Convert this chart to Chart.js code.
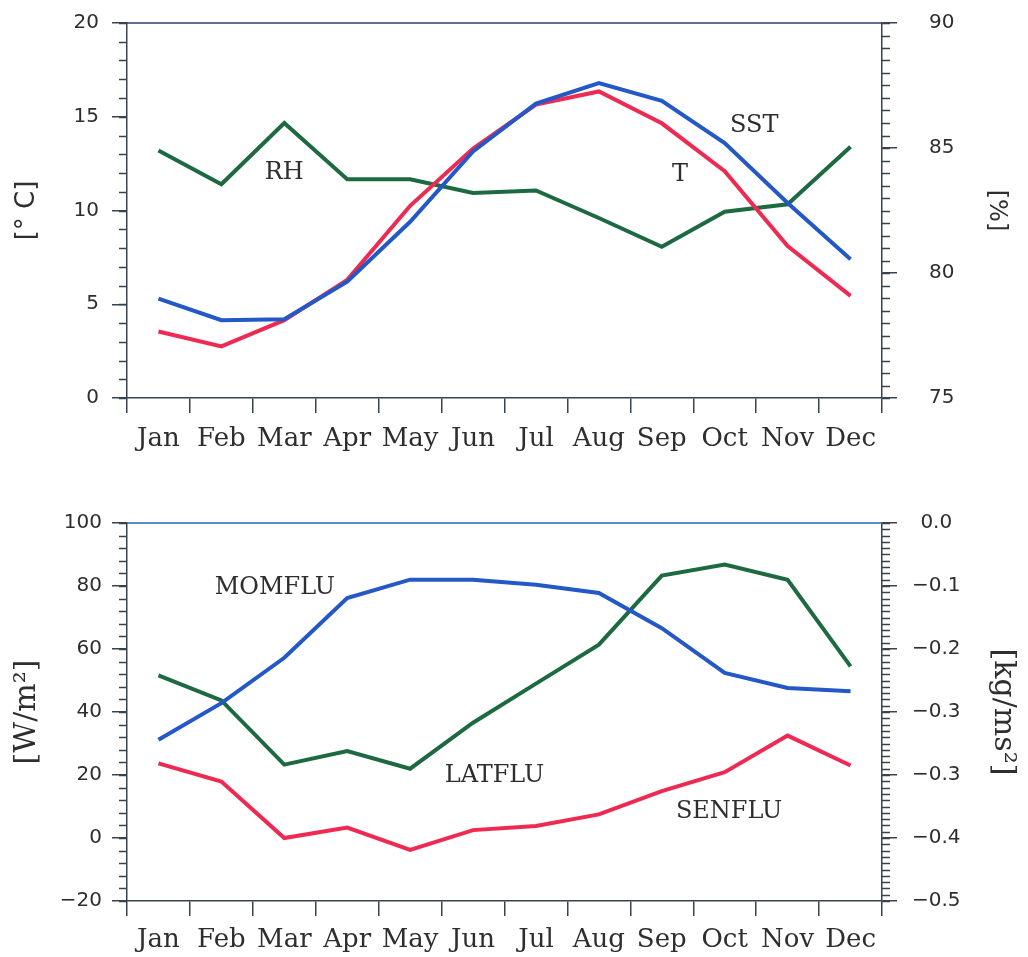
<!DOCTYPE html>
<html>
<head>
<meta charset="utf-8">
<script src="https://cdn.jsdelivr.net/npm/chart.js@4.4.0/dist/chart.umd.min.js"></script>
<style>
    html, body { margin: 0; padding: 0; background: #ffffff; }
    canvas { position: absolute; left: 0; }
    #graficaClima { top: 0; }
    #graficaFlujos { top: 460px; }
</style>
</head>
<body>
<canvas id="graficaClima" width="1028" height="460"></canvas>
<canvas id="graficaFlujos" width="1028" height="497"></canvas>
<script>
// Meses del ciclo anual
var meses = ["Jan", "Feb", "Mar", "Apr", "May", "Jun", "Jul", "Aug", "Sep", "Oct", "Nov", "Dec"];

// Panel superior: temperaturas [°C] y humedad relativa [%]
var sst = [5.3, 4.15, 4.2, 6.2, 9.4, 13.15, 15.7, 16.8, 15.85, 13.6, 10.4, 7.4];
var temperatura = [3.55, 2.75, 4.15, 6.3, 10.25, 13.3, 15.65, 16.35, 14.65, 12.1, 8.1, 5.45];
var humedad = [84.9, 83.55, 86.0, 83.75, 83.75, 83.2, 83.3, 82.2, 81.05, 82.45, 82.75, 85.05];

// Panel inferior: flujos de calor [W/m2] y flujo de momento [kg/ms2]
var momflu = [-0.344, -0.286, -0.214, -0.119, -0.09, -0.09, -0.098, -0.111, -0.167, -0.238, -0.262, -0.267];
var latflu = [51.6, 43.7, 23.3, 27.6, 22.0, 36.6, 49.0, 61.4, 83.3, 86.8, 82.0, 54.5];
var senflu = [23.7, 17.9, 0.0, 3.3, -3.8, 2.5, 3.8, 7.5, 14.9, 20.9, 32.5, 23.0];

// Etiquetas del eje derecho inferior, de arriba hacia abajo
var etiquetasMomento = ["0.0", "\u22120.1", "\u22120.2", "\u22120.3", "\u22120.3", "\u22120.4", "\u22120.5"];

var AZUL = "#2358c6";
var ROJO = "#ee2a52";
var VERDE = "#1d6a42";
var EJE = "#37434d";
var TEXTO = "#2e2e2e";
var SERIF = "'DejaVu Serif', serif";
var SANS = "'DejaVu Sans', sans-serif";

// Marcas menores de los ejes y la línea superior del marco
var marcasMenores = {
    id: "marcasMenores",
    afterDraw: function (chart, args, opts) {
        var ctx = chart.ctx;
        var area = chart.chartArea;
        ctx.save();
        ctx.lineWidth = 1.5;
        ctx.strokeStyle = opts.colorMarco;
        ctx.beginPath();
        ctx.moveTo(area.left, area.top);
        ctx.lineTo(area.right, area.top);
        ctx.stroke();

        ctx.strokeStyle = EJE;
        opts.ejes.forEach(function (def) {
            var escala = chart.scales[def.id];
            var n = Math.round((escala.max - escala.min) / def.paso);
            for (var i = 0; i <= n; i++) {
                var y = Math.round(escala.getPixelForValue(escala.min + i * def.paso)) + 0.5;
                ctx.beginPath();
                if (escala.position === "left") {
                    ctx.moveTo(area.left - 8, y);
                    ctx.lineTo(area.left, y);
                } else {
                    ctx.moveTo(area.right, y);
                    ctx.lineTo(area.right + 8, y);
                }
                ctx.stroke();
            }
        });
        ctx.restore();
    }
};

// Nombres de las series escritos dentro del gráfico
var rotulos = {
    id: "rotulos",
    afterDatasetsDraw: function (chart, args, opts) {
        var ctx = chart.ctx;
        ctx.save();
        ctx.fillStyle = TEXTO;
        ctx.font = "24px " + SERIF;
        ctx.textAlign = "center";
        ctx.textBaseline = "middle";
        opts.lista.forEach(function (r) {
            var x = chart.scales.x.getPixelForValue(r.x);
            var y = chart.scales[r.eje].getPixelForValue(r.y);
            ctx.fillText(r.texto, x, y);
        });
        ctx.restore();
    }
};

function serie(nombre, datos, color, eje) {
    return {
        label: nombre,
        data: datos,
        borderColor: color,
        backgroundColor: color,
        borderWidth: 4,
        pointRadius: 0,
        tension: 0,
        fill: false,
        yAxisID: eje
    };
}

function ejeX(alto, separacion) {
    return {
        type: "category",
        offset: true,
        border: { color: EJE, width: 1.5 },
        grid: { offset: true, drawOnChartArea: false, color: EJE, tickLength: 15, lineWidth: 1.5 },
        ticks: { color: TEXTO, font: { family: SERIF, size: 26 }, padding: separacion, maxRotation: 0, autoSkip: false },
        afterFit: function (escala) { escala.height = alto; }
    };
}

function ejeY(lado, ancho, config) {
    return {
        position: lado,
        min: config.min,
        max: config.max,
        border: { color: EJE, width: 1.5 },
        grid: { drawOnChartArea: false, color: EJE, tickLength: 15, lineWidth: 1.5 },
        ticks: {
            stepSize: config.paso,
            color: TEXTO,
            font: { family: SANS, size: 20 },
            padding: config.separacion,
            crossAlign: lado === "left" ? "near" : "center",
            callback: config.etiqueta
        },
        title: {
            display: true,
            text: config.titulo,
            color: TEXTO,
            font: { family: config.fuenteTitulo, size: config.tamTitulo },
            padding: { top: config.margenTitulo, bottom: 0 }
        },
        afterFit: function (escala) {
            // ancho fijo y sin margen extra arriba/abajo por las etiquetas
            escala.width = ancho;
            escala.paddingTop = 0;
            escala.paddingBottom = 0;
        }
    };
}

function conMenos(valor) {
    return String(valor).replace("-", "\u2212");
}

Chart.defaults.devicePixelRatio = 1;

// Gráfica de temperatura y humedad
var graficaClima = new Chart(document.getElementById("graficaClima").getContext("2d"), {
    type: "line",
    data: {
        labels: meses,
        datasets: [
            serie("SST", sst, AZUL, "y"),
            serie("T", temperatura, ROJO, "y"),
            serie("RH", humedad, VERDE, "y2")
        ]
    },
    options: {
        responsive: false,
        animation: false,
        events: [],
        layout: { padding: { top: 23, left: 0, right: 0, bottom: 0 } },
        plugins: {
            legend: { display: false },
            tooltip: { enabled: false },
            marcasMenores: { colorMarco: "#2e3f72", ejes: [{ id: "y", paso: 1 }, { id: "y2", paso: 0.5 }] },
            rotulos: {
                lista: [
                    { texto: "RH", x: 2, y: 12.0, eje: "y" },
                    { texto: "SST", x: 9.47, y: 14.5, eje: "y" },
                    { texto: "T", x: 8.29, y: 11.9, eje: "y" }
                ]
            }
        },
        scales: {
            x: ejeX(62, 11),
            y: ejeY("left", 127, { min: 0, max: 20, paso: 5, separacion: 13, titulo: "[\u00b0 C]", fuenteTitulo: SANS, tamTitulo: 26, margenTitulo: 12, etiqueta: conMenos }),
            y2: ejeY("right", 146, { min: 75, max: 90, paso: 5, separacion: 32, titulo: "[%]", fuenteTitulo: SANS, tamTitulo: 24, margenTitulo: 17, etiqueta: conMenos })
        }
    },
    plugins: [marcasMenores, rotulos]
});

// Gráfica de flujos de calor y momento
var graficaFlujos = new Chart(document.getElementById("graficaFlujos").getContext("2d"), {
    type: "line",
    data: {
        labels: meses,
        datasets: [
            serie("MOMFLU", momflu, AZUL, "y2"),
            serie("SENFLU", senflu, ROJO, "y"),
            serie("LATFLU", latflu, VERDE, "y")
        ]
    },
    options: {
        responsive: false,
        animation: false,
        events: [],
        layout: { padding: { top: 63, left: 0, right: 0, bottom: 0 } },
        plugins: {
            legend: { display: false },
            tooltip: { enabled: false },
            marcasMenores: { colorMarco: "#2a6aae", ejes: [{ id: "y", paso: 4 }, { id: "y2", paso: 0.01 }] },
            rotulos: {
                lista: [
                    { texto: "MOMFLU", x: 1.85, y: 79.5, eje: "y" },
                    { texto: "LATFLU", x: 5.34, y: 19.9, eje: "y" },
                    { texto: "SENFLU", x: 9.07, y: 8.4, eje: "y" }
                ]
            }
        },
        scales: {
            x: ejeX(56, 9),
            y: ejeY("left", 127, { min: -20, max: 100, paso: 20, separacion: 10, titulo: "[W/m\u00b2]", fuenteTitulo: SERIF, tamTitulo: 30, margenTitulo: 9, etiqueta: conMenos }),
            y2: ejeY("right", 146, {
                min: -0.6, max: 0, paso: 0.1, separacion: 15, titulo: "[kg/ms\u00b2]", fuenteTitulo: SERIF, tamTitulo: 30, margenTitulo: 7,
                etiqueta: function (valor, i, ticks) { return etiquetasMomento[ticks.length - 1 - i]; }
            })
        }
    },
    plugins: [marcasMenores, rotulos]
});
</script>
</body>
</html>
